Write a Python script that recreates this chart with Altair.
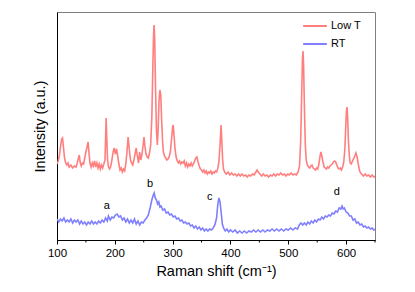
import altair as alt
import pandas as pd

# Low T spectrum (Raman shift cm-1, intensity a.u.)
lowt_pts = [(100,76),(102,79),(104,84),(106,93),(108,101),(109.5,102),(111,94),(113,82),(115,77),(117,75),(119,77),(121,73),(124,75),(127,72),(130,74),(133,73),(135,77),(137,82),(138.5,85),(140,78),(142,74),(144,77),(146,76),(148,82),(150,88),(152,93),(153.8,98),(155.5,86),(157,77),(159,73),(161,77),(163,74),(165,79),(167,73),(169,77),(171,72),(173,76),(175,71),(177,75),(179,72),(181,76),(183,80),(184.2,105),(185,122),(186,104),(187.5,80),(189,73),(191,71),(193,74),(195,80),(197,88),(199,92),(201,86),(203,91),(205,84),(207,76),(209,70),(211,72),(213,68),(215,71),(217,69),(219,76),(221,88),(223,103),(225,91),(227,80),(229,77),(231,75),(233,80),(235,86),(237,92),(239,84),(241,77),(243,88),(245,80),(247,86),(249,95),(250.5,103),(252,94),(254,86),(256,83),(258,82),(260,87),(262,95),(264,122),(265.5,165),(267,205),(268,215),(269,200),(270.5,150),(272,110),(273.5,95),(275,112),(276.5,140),(278,150),(279.5,145),(281,120),(282.5,100),(284,88),(286,84),(288,82),(290,80),(292,81),(294,83),(296,88),(298,100),(300,113),(301,115),(302.5,104),(304,92),(306,83),(308,79),(310,77),(312,79),(314,76),(316,78),(318,77),(320,79),(322,74),(324,77),(326,73),(328,76),(330,74),(332,77),(334,74),(336,76),(338,79),(340,82),(342,83),(344,78),(346,74),(348,71),(350,70),(352,68),(354,70),(356,67),(358,69),(360,66),(362,68),(364,67),(366,69),(368,66),(370,68),(372,67),(374,69),(376,68),(378,71),(380,78),(382,95),(383.7,115),(385,100),(386.5,80),(388,71),(390,68),(393,66),(396,68),(399,65),(402,67),(405,65),(408,66),(411,64),(414,66),(417,64),(420,66),(423,64),(426,65),(429,63),(432,65),(435,64),(438,66),(441,65),(444,68),(446,70),(448,68),(451,66),(454,64),(457,66),(460,64),(463,65),(466,63),(469,65),(472,64),(475,66),(478,64),(481,66),(484,65),(487,67),(490,65),(493,66),(496,64),(499,66),(502,65),(505,67),(508,65),(511,66),(514,65),(517,68),(519.5,74),(521.5,100),(523,140),(524.5,180),(525.5,189),(526.5,175),(528,130),(529.5,95),(531,80),(533,75),(535,73),(537,72),(539,74),(541,75),(543,72),(545,71),(547,70),(549,72),(551,71),(553,76),(555,84),(556.6,88),(558,84),(560,78),(562,73),(564,72),(566,71),(568,73),(570,72),(572,74),(574,75),(576,76),(578,78),(580,79),(582,78),(584,75),(586,72),(588,71),(590,72),(592,70),(594,73),(596,78),(598,92),(599.5,115),(600.8,130),(601.6,133),(602.5,125),(604,100),(605.5,85),(607,77),(609,76),(611,79),(613,81),(615,84),(617,87),(619,83),(621,76),(623,70),(625,67),(627,66),(630,64),(633,66),(636,64),(639,65),(642,63),(645,65),(648,63),(650,64)]
lowt_shift = [p[0] for p in lowt_pts]
lowt_int = [p[1] for p in lowt_pts]

# RT spectrum
rt_pts = [(100,21),(103,18),(106,21),(109,19),(112,22),(115,18),(118,20),(121,18),(124,21),(127,17),(130,20),(133,18),(136,20),(139,16),(142,19),(145,16),(148,18),(151,15),(154,18),(157,16),(160,19),(163,16),(166,18),(169,16),(172,19),(175,17),(178,20),(181,18),(184,22),(187,19),(189,24),(192,20),(195,23),(198,22),(201,25),(204,26),(207,23),(210,24),(213,20),(216,22),(219,18),(222,21),(225,17),(228,20),(231,17),(234,21),(237,16),(240,19),(243,15),(246,18),(249,17),(252,20),(255,22),(258,25),(261,32),(264,40),(266,44),(268,47),(270,42),(272,40),(274,36),(276,38),(278,33),(280,34),(283,30),(286,31),(289,27),(292,28),(295,25),(298,26),(301,23),(304,24),(307,21),(310,22),(313,19),(316,20),(319,17),(322,18),(325,16),(328,17),(331,14),(334,15),(337,12),(340,14),(343,11),(346,13),(349,10),(352,12),(355,9),(358,11),(361,9),(364,11),(367,10),(370,12),(373,15),(376,22),(378,35),(380,42),(382,38),(384,27),(386,16),(388,12),(391,9),(394,11),(397,8),(400,10),(404,8),(408,10),(412,7),(416,9),(420,7),(424,9),(428,7),(432,9),(436,8),(440,10),(444,8),(448,10),(452,8),(456,10),(460,8),(464,10),(468,9),(472,11),(476,9),(480,11),(484,9),(488,11),(492,9),(496,11),(500,10),(504,12),(508,10),(512,12),(516,11),(519,15),(522,17),(525,15),(528,17),(531,15),(534,18),(537,16),(540,19),(543,17),(546,20),(549,18),(552,21),(555,20),(558,23),(561,21),(564,24),(567,23),(570,25),(573,24),(576,27),(579,26),(582,29),(585,28),(588,32),(591,31),(593,34),(595,31),(597,32),(600,28),(603,27),(606,24),(609,24),(612,20),(615,21),(618,17),(621,18),(624,15),(627,16),(630,13),(633,14),(636,12),(639,13),(642,11),(645,12),(648,10),(650,11)]
rt_shift = [p[0] for p in rt_pts]
rt_int = [p[1] for p in rt_pts]

series_names = ["Low T", "RT"]
series_colors = ["#ff7f7f", "#7f7fff"]

peak_labels = ["a", "b", "c", "d"]
peak_label_x = [186, 261, 364, 584]
peak_label_y = [34, 56, 43, 48]

major_ticks = [100, 200, 300, 400, 500, 600]
minor_ticks = [150, 250, 350, 450, 550, 650]

FONT = "Liberation Sans"

df = pd.concat([
    pd.DataFrame({"shift": lowt_shift, "intensity": lowt_int, "series": "Low T", "order": range(len(lowt_shift))}),
    pd.DataFrame({"shift": rt_shift, "intensity": rt_int, "series": "RT", "order": range(len(rt_shift))}),
])
labels_df = pd.DataFrame({"label": peak_labels, "x": peak_label_x, "y": peak_label_y})
minor_df = pd.DataFrame({"x": minor_ticks})

xscale = alt.Scale(domain=[100, 650], nice=False, zero=False)
yscale = alt.Scale(domain=[0, 228], nice=False, zero=False)

lines = alt.Chart(df).mark_line(strokeWidth=1.6, clip=True).encode(
    x=alt.X("shift:Q", scale=xscale,
            axis=alt.Axis(title="Raman shift (cm⁻¹)", values=major_ticks, format="d",
                          tickSize=4, labelPadding=3, titlePadding=6, labelFlush=False,
                          domainColor="black", tickColor="black", grid=False)),
    y=alt.Y("intensity:Q", scale=yscale,
            axis=alt.Axis(title="Intensity (a.u.)", labels=False, ticks=False,
                          titlePadding=10, domainColor="black", grid=False)),
    color=alt.Color("series:N",
                    scale=alt.Scale(domain=series_names, range=series_colors),
                    legend=alt.Legend(title=None, orient="none", legendX=245, legendY=1,
                                      symbolType="stroke", symbolSize=560, symbolStrokeWidth=2,
                                      labelFontSize=11, labelFont=FONT, labelOffset=3,
                                      rowPadding=-12, padding=0)),
    detail="series:N",
    order="order:Q",
)

texts = alt.Chart(labels_df).mark_text(fontSize=11, font=FONT, color="black", baseline="middle").encode(
    x=alt.X("x:Q", scale=xscale),
    y=alt.Y("y:Q", scale=yscale),
    text="label:N",
)

minor = alt.Chart(minor_df).mark_rule(color="black", strokeWidth=1).encode(
    x=alt.X("x:Q", scale=xscale),
    y=alt.value(228),
    y2=alt.value(230.5),
)

chart = alt.layer(lines, texts, minor).properties(
    width=318, height=228,
    autosize=alt.AutoSizeParams(type="none"),
    padding={"left": 49, "top": 4, "right": 32, "bottom": 44},
).configure_view(
    stroke="#808080", strokeWidth=1
).configure_axis(
    labelFont=FONT, titleFont=FONT, labelFontSize=11.5, titleFontSize=14.5,
    titleFontWeight="normal", labelColor="black", titleColor="black"
)

chart.save("out.html", embed_options={"renderer": "svg", "actions": False})
